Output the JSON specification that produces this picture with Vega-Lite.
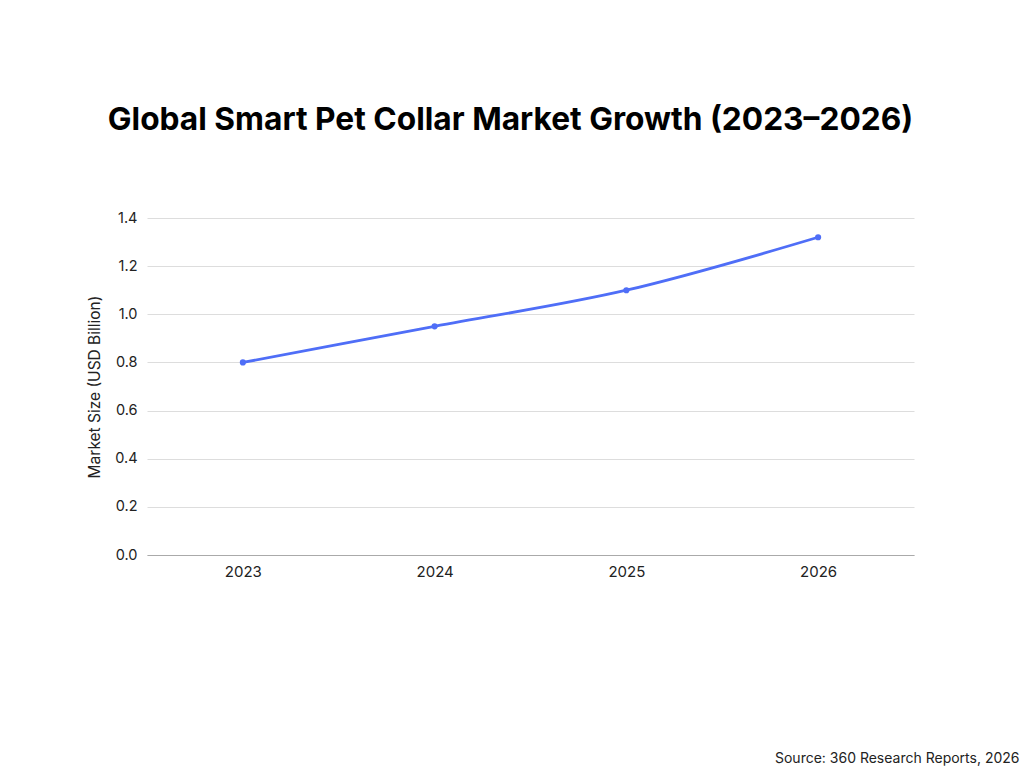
{
  "$schema": "https://vega.github.io/schema/vega-lite/v6.json",
  "autosize": {"type": "none"},
  "width": 767,
  "height": 337,
  "padding": {"left": 147, "top": 218, "right": 110, "bottom": 213},
  "background": "white",
  "title": {
    "text": "Global Smart Pet Collar Market Growth (2023–2026)",
    "font": "Inter",
    "fontSize": 31.7,
    "fontWeight": "bold",
    "color": "#000000",
    "anchor": "middle",
    "dx": -20,
    "offset": 73
  },
  "data": {
    "values": [
      {"year": "2023", "value": 0.8},
      {"year": "2024", "value": 0.95},
      {"year": "2025", "value": 1.1},
      {"year": "2026", "value": 1.32}
    ]
  },
  "mark": {
    "type": "line",
    "interpolate": "monotone",
    "color": "#4f6ef7",
    "strokeWidth": 2.8,
    "point": {"filled": true, "size": 38, "color": "#4f6ef7"}
  },
  "encoding": {
    "x": {
      "field": "year",
      "type": "ordinal",
      "scale": {"type": "point", "padding": 0.5},
      "axis": {
        "title": "Source: 360 Research Reports, 2026",
        "titleFont": "Inter",
        "titleFontSize": 14,
        "titleFontWeight": "normal",
        "titleColor": "#222222",
        "titleAnchor": "end",
        "titleAlign": "right",
        "titleBaseline": "alphabetic",
        "titleX": 872,
        "titleY": 207,
        "labelAngle": 0,
        "labelFont": "Inter",
        "labelFontSize": 15,
        "labelColor": "#222222",
        "labelPadding": 9,
        "ticks": false,
        "domainColor": "#aaaaaa",
        "grid": false
      }
    },
    "y": {
      "field": "value",
      "type": "quantitative",
      "scale": {"domain": [0, 1.4]},
      "axis": {
        "title": "Market Size (USD Billion)",
        "titleFont": "Inter",
        "titleFontSize": 15.5,
        "titleFontWeight": "normal",
        "titleColor": "#222222",
        "titlePadding": 12,
        "values": [0, 0.2, 0.4, 0.6, 0.8, 1.0, 1.2, 1.4],
        "format": ".1f",
        "labelFont": "Inter",
        "labelFontSize": 14.5,
        "labelColor": "#222222",
        "labelPadding": 10,
        "ticks": false,
        "domain": false,
        "gridColor": "#dddddd"
      }
    }
  },
  "config": {"view": {"stroke": null}}
}
